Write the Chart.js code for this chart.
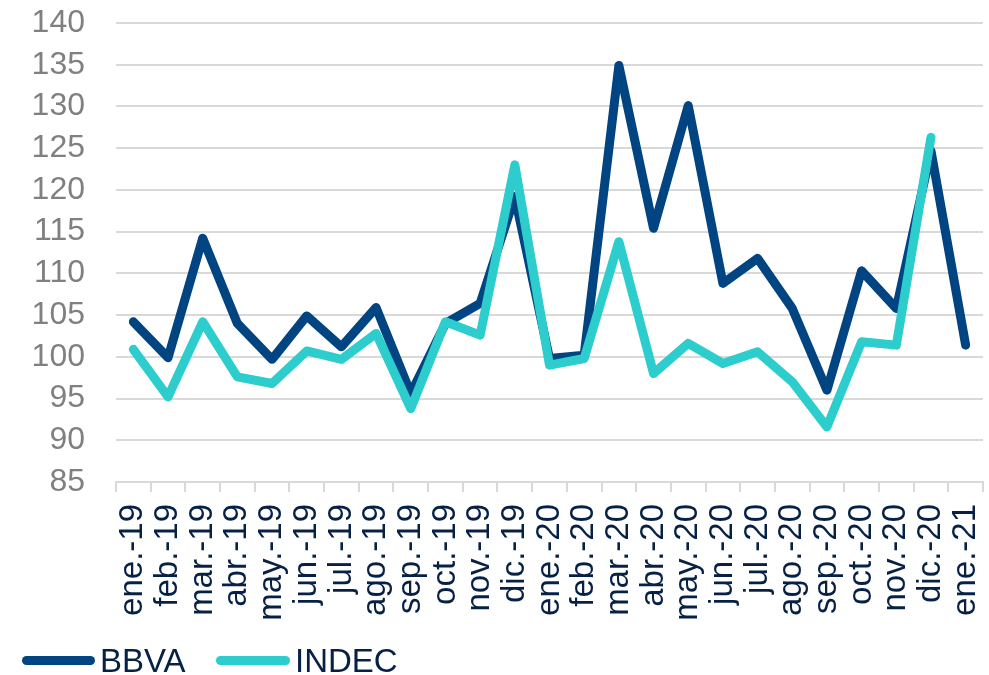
<!DOCTYPE html>
<html>
<head>
<meta charset="utf-8">
<script src="https://cdn.jsdelivr.net/npm/chart.js@4.4.1/dist/chart.umd.min.js"></script>
<style>
    html, body { margin: 0; padding: 0; background: #ffffff; }
    #wrap { position: relative; width: 989px; height: 675px; }
    #legend { position: absolute; left: 0; top: 641px; height: 34px; font-family: 'Liberation Sans', Arial, sans-serif; font-size: 33px; color: #072146; }
    .item { position: absolute; top: 0; height: 34px; line-height: 34px; white-space: nowrap; }
    .swatch { position: absolute; top: 15px; height: 9px; border-radius: 5px; }
    .label { position: absolute; top: 3px; }
</style>
</head>
<body>
<div id="wrap">
    <canvas id="chart" width="989" height="675"></canvas>
    <div id="legend"></div>
</div>
<script>
// ===== Data =====
const months = ['ene.-19', 'feb.-19', 'mar.-19', 'abr.-19', 'may.-19', 'jun.-19', 'jul.-19', 'ago.-19',
    'sep.-19', 'oct.-19', 'nov.-19', 'dic.-19', 'ene.-20', 'feb.-20', 'mar.-20', 'abr.-20', 'may.-20',
    'jun.-20', 'jul.-20', 'ago.-20', 'sep.-20', 'oct.-20', 'nov.-20', 'dic.-20', 'ene.-21'];

const bbvaValues = [104.2, 99.9, 114.2, 104.0, 99.7, 104.9, 101.2, 105.9, 95.6, 104.0, 106.4, 119.2,
    99.8, 100.2, 134.9, 115.4, 130.1, 108.8, 111.8, 105.8, 96.0, 110.3, 105.8, 124.7, 101.4];

const indecValues = [100.9, 95.2, 104.2, 97.6, 96.8, 100.7, 99.7, 102.8, 93.8, 104.2, 102.6, 123.0,
    99.0, 99.8, 113.8, 98.0, 101.6, 99.2, 100.6, 97.0, 91.6, 101.8, 101.4, 126.3, null];

const seriesNames = ['BBVA', 'INDEC'];
const seriesColors = ['#004481', '#2DCCCD'];

const yMin = 85, yMax = 140, yStep = 5;

const fontFamily = "'Liberation Sans', Arial, sans-serif";

// ===== Chart =====
const ctx = document.getElementById('chart');

const chart = new Chart(ctx, {
    type: 'line',
    data: {
        labels: months,
        datasets: [{
            label: seriesNames[0],
            data: bbvaValues,
            borderColor: seriesColors[0],
            backgroundColor: seriesColors[0],
            order: 2
        }, {
            label: seriesNames[1],
            data: indecValues,
            borderColor: seriesColors[1],
            backgroundColor: seriesColors[1],
            order: 1
        }]
    },
    options: {
        responsive: false,
        animation: false,
        devicePixelRatio: 1,
        layout: { padding: { left: 0, right: 6, top: 23, bottom: 0 } },
        elements: {
            line: { borderWidth: 9, tension: 0, borderJoinStyle: 'round', borderCapStyle: 'round' },
            point: { radius: 0, hoverRadius: 0 }
        },
        plugins: {
            legend: { display: false },
            tooltip: { enabled: false }
        },
        scales: {
            x: {
                offset: true,
                grid: {
                    offset: true,
                    drawOnChartArea: false,
                    drawTicks: true,
                    tickLength: 10,
                    tickWidth: 2,
                    tickColor: '#d9d9d9',
                    color: '#d9d9d9',
                    lineWidth: 2
                },
                border: { display: true, color: '#d9d9d9', width: 2 },
                ticks: {
                    autoSkip: false,
                    maxRotation: 90,
                    minRotation: 90,
                    padding: 12,
                    color: '#072146',
                    font: { family: fontFamily, size: 33 }
                },
                afterFit: function(scale) {
                    scale.height = 193;
                    scale.paddingLeft = 0;
                    scale.paddingRight = 0;
                }
            },
            y: {
                min: yMin,
                max: yMax,
                grid: {
                    color: '#d9d9d9',
                    lineWidth: 2,
                    drawTicks: false
                },
                border: { display: false },
                ticks: {
                    autoSkip: false,
                    stepSize: yStep,
                    padding: 31,
                    color: '#808080',
                    font: { family: fontFamily, size: 32 }
                },
                afterFit: function(scale) {
                    scale.width = 116;
                    scale.paddingTop = 0;
                    scale.paddingBottom = 0;
                }
            }
        }
    }
});

// ===== Legend (HTML, built from series arrays) =====
const legendEl = document.getElementById('legend');
const legendLayout = [
    { swatchX: 22, swatchW: 73, textX: 100 },
    { swatchX: 216, swatchW: 74, textX: 295 }
];
seriesNames.forEach((name, i) => {
    const pos = legendLayout[i];
    const item = document.createElement('div');
    item.className = 'item';
    item.innerHTML =
        `<div class="swatch" style="left:${pos.swatchX}px;width:${pos.swatchW}px;background:${seriesColors[i]}"></div>` +
        `<div class="label" style="left:${pos.textX}px">${name}</div>`;
    legendEl.appendChild(item);
});
</script>
</body>
</html>
